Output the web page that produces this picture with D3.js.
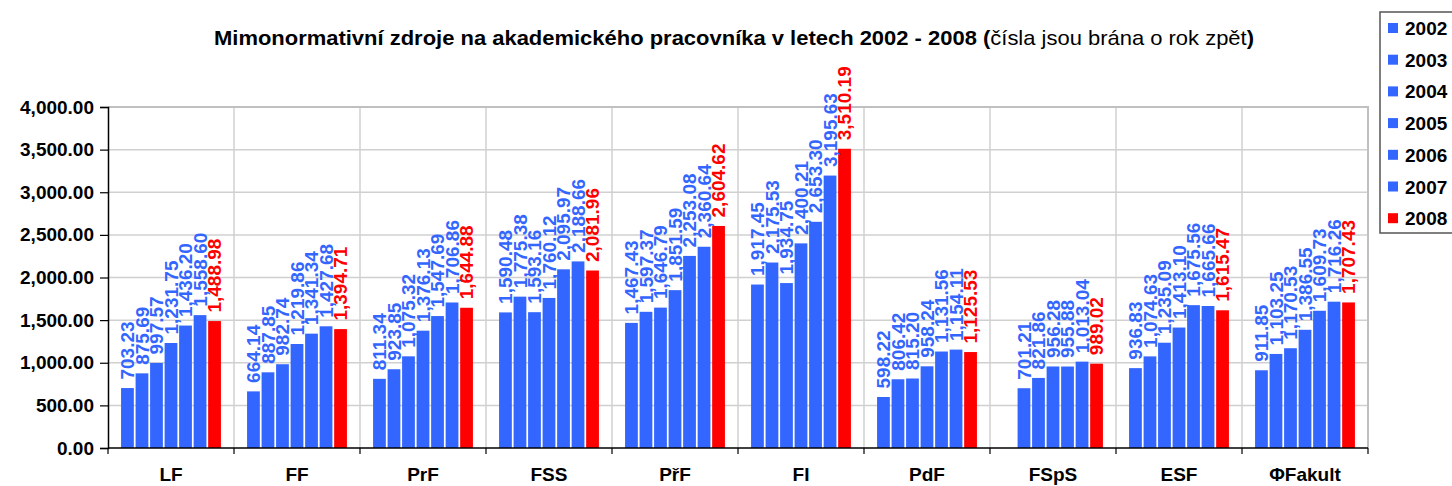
<!DOCTYPE html>
<html>
<head>
<meta charset="utf-8">
<script src="https://cdn.jsdelivr.net/npm/d3@7"></script>
<style>
  body { margin: 0; background: #fff; }
  svg { display: block; font-family: "Liberation Sans", Arial, sans-serif; }
</style>
</head>
<body>
<svg id="chart" width="1452" height="486"></svg>
<script>
// data
var faculties = ['LF', 'FF', 'PrF', 'FSS', 'PřF', 'FI', 'PdF', 'FSpS', 'ESF', 'ΦFakult'];
var years = ['2002', '2003', '2004', '2005', '2006', '2007', '2008'];

var values2002 = [703.23, 664.14, 811.34, 1590.48, 1467.43, 1917.45, 598.22, null, 936.83, 911.85];
var values2003 = [875.69, 887.85, 923.85, 1775.38, 1597.37, 2175.53, 806.42, 701.21, 1074.63, 1103.25];
var values2004 = [997.57, 982.74, 1075.32, 1593.16, 1646.79, 1934.75, 815.20, 821.86, 1235.09, 1170.53];
var values2005 = [1231.75, 1219.86, 1376.13, 1760.12, 1851.59, 2400.21, 958.24, 956.28, 1413.10, 1386.55];
var values2006 = [1436.20, 1341.34, 1547.69, 2095.97, 2253.08, 2653.30, 1131.56, 955.88, 1675.56, 1609.73];
var values2007 = [1558.60, 1427.68, 1706.86, 2188.66, 2360.64, 3195.63, 1154.11, 1013.04, 1665.66, 1716.26];
var values2008 = [1488.98, 1394.71, 1644.88, 2081.96, 2604.62, 3510.19, 1125.53, 989.02, 1615.47, 1707.43];

var yTicks = [0, 500, 1000, 1500, 2000, 2500, 3000, 3500, 4000];

var seriesValues = [values2002, values2003, values2004, values2005, values2006, values2007, values2008];
var seriesColors = ['#3366ff', '#3366ff', '#3366ff', '#3366ff', '#3366ff', '#3366ff', '#ff0000'];

var plot = { left: 108, right: 1368, top: 107, bottom: 448 };
var svg = d3.select('#chart');
var fmt = d3.format(',.2f');

var x0 = d3.scaleBand().domain(faculties).range([plot.left, plot.right]);
var x1 = d3.scaleBand().domain(years).range([0, x0.bandwidth()])
  .paddingInner(0.12).paddingOuter(0.9);
var y = d3.scaleLinear().domain([0, 4000]).range([plot.bottom, plot.top]);

// grid
var grid = svg.append('g').attr('stroke', '#d0d0d0').attr('stroke-width', 1.5);
grid.selectAll('line.h').data(yTicks.slice(1, -1)).enter().append('line')
  .attr('x1', plot.left).attr('x2', plot.right)
  .attr('y1', d => y(d)).attr('y2', d => y(d));
grid.selectAll('line.v').data(faculties.slice(1)).enter().append('line')
  .attr('x1', d => x0(d)).attr('x2', d => x0(d))
  .attr('y1', plot.top).attr('y2', plot.bottom);
// plot area border (top / right)
svg.append('path')
  .attr('d', `M${plot.left},${plot.top}H${plot.right}V${plot.bottom}`)
  .attr('fill', 'none').attr('stroke', '#c0c0c0').attr('stroke-width', 2);

// bars
var rows = [];
seriesValues.forEach((vals, s) => {
  vals.forEach((v, i) => {
    if (v != null) rows.push({ fac: faculties[i], year: years[s], value: v, color: seriesColors[s] });
  });
});

svg.append('g').selectAll('rect').data(rows).enter().append('rect')
  .attr('x', d => x0(d.fac) + x1(d.year))
  .attr('width', x1.bandwidth())
  .attr('y', d => y(d.value))
  .attr('height', d => y(0) - y(d.value))
  .attr('fill', d => d.color);

// value labels, rotated
svg.append('g').selectAll('text').data(rows).enter().append('text')
  .attr('transform', d => {
    var cx = x0(d.fac) + x1(d.year) + x1.bandwidth() / 2;
    return `translate(${cx},${y(d.value) - 8.5}) rotate(-90)`;
  })
  .attr('dy', '0.35em')
  .attr('font-size', 19).attr('font-weight', 'bold')
  .attr('fill', d => d.color)
  .text(d => fmt(d.value));

// axes
var yAxis = svg.append('g').attr('transform', `translate(${plot.left},0)`)
  .call(d3.axisLeft(y).tickValues(yTicks).tickFormat(fmt).tickSize(8).tickPadding(6));
yAxis.select('.domain').attr('stroke', '#000').attr('stroke-width', 1.5);
yAxis.selectAll('.tick line').attr('stroke', '#000').attr('stroke-width', 1.2);
yAxis.selectAll('text').attr('font-size', 19).attr('font-weight', 'bold')
  .attr('font-family', '"Liberation Sans", Arial, sans-serif').attr('fill', '#000');

var xAxis = svg.append('g').attr('transform', `translate(0,${plot.bottom})`);
xAxis.append('line').attr('x1', plot.left).attr('x2', plot.right)
  .attr('stroke', '#000').attr('stroke-width', 1.5);
xAxis.selectAll('line.tk').data(faculties.concat(['end'])).enter().append('line')
  .attr('x1', (d, i) => plot.left + i * x0.step())
  .attr('x2', (d, i) => plot.left + i * x0.step())
  .attr('y1', 0).attr('y2', 6).attr('stroke', '#000').attr('stroke-width', 1.2);
xAxis.selectAll('text').data(faculties).enter().append('text')
  .attr('x', d => x0(d) + x0.bandwidth() / 2)
  .attr('y', 33)
  .attr('text-anchor', 'middle')
  .attr('font-size', 19).attr('font-weight', 'bold')
  .text(d => d);

// title
var title = svg.append('text').attr('x', 734).attr('y', 45)
  .attr('text-anchor', 'middle').attr('font-size', 21)
  .attr('textLength', 1040).attr('lengthAdjust', 'spacingAndGlyphs');
title.append('tspan').attr('font-weight', 'bold')
  .text('Mimonormativní zdroje na akademického pracovníka v letech 2002 - 2008 (');
title.append('tspan').text('čísla jsou brána o rok zpět');
title.append('tspan').attr('font-weight', 'bold').text(')');

// legend
var legend = svg.append('g').attr('transform', 'translate(1380,12)');
legend.append('rect').attr('width', 90).attr('height', 221)
  .attr('fill', '#fff').attr('stroke', '#555').attr('stroke-width', 1.5);
var items = legend.selectAll('g').data(years).enter().append('g')
  .attr('transform', (d, i) => `translate(0,${16 + i * 31.7})`);
items.append('rect').attr('x', 8).attr('y', -5).attr('width', 10).attr('height', 10)
  .attr('fill', (d, i) => seriesColors[i]);
items.append('text').attr('x', 25).attr('y', 7)
  .attr('font-size', 19).attr('font-weight', 'bold').text(d => d);
</script>
</body>
</html>
